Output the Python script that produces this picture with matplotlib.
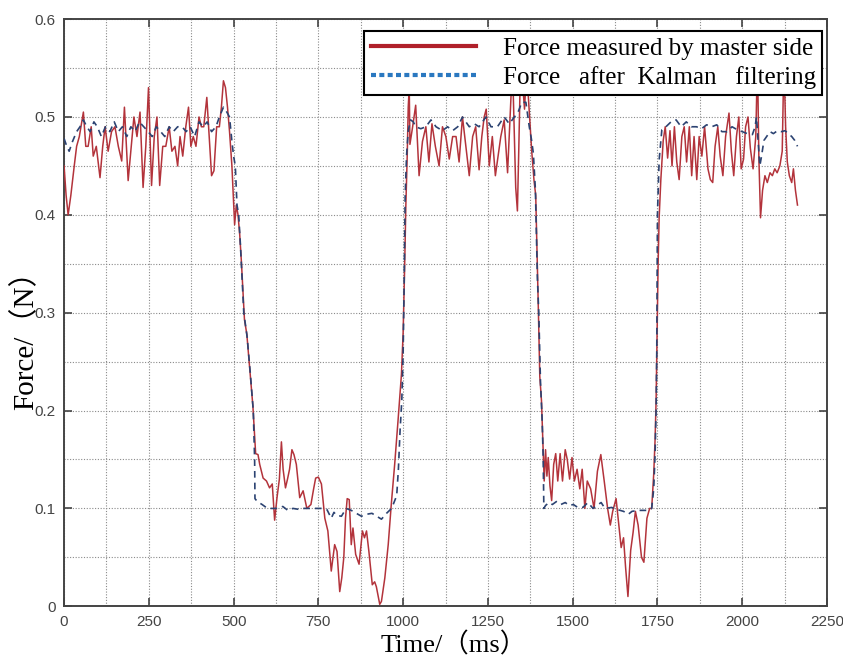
import matplotlib
matplotlib.use("Agg")
import matplotlib.pyplot as plt
from matplotlib.lines import Line2D
from matplotlib.ticker import MultipleLocator

# Force measured by master side (time in ms, force in N)
red_t = [0, 6, 12, 20, 30, 37, 45, 57, 64, 71, 80, 86, 95, 106, 114, 121, 130, 140, 150, 160,
         170, 178, 189, 198, 206, 215, 224, 233, 241, 249, 258, 266, 274, 282, 291, 300, 310, 318,
         327, 335, 342, 350, 359, 367, 374, 381, 389, 398, 405, 412, 421, 428, 435, 442, 450, 458,
         464, 470, 476, 482, 488, 495, 503, 508, 513, 518, 523, 532, 539, 547, 557, 565, 572, 577,
         587, 597, 606, 614, 621, 628, 635, 641, 646, 653, 659, 665, 672, 678, 685, 695, 705, 716,
         728, 736, 742, 750, 759, 769, 778, 788, 798, 805, 813, 819, 825, 830, 835, 841, 847, 852,
         860, 870, 880, 886, 892, 899, 909, 916, 921, 931, 936, 946, 956, 965, 975, 985, 995, 1000,
         1004, 1008, 1012, 1015, 1018, 1020, 1028, 1037, 1047, 1057, 1067, 1076, 1085, 1095, 1106,
         1116, 1126, 1136, 1146, 1156, 1165, 1175, 1185, 1195, 1205, 1214, 1224, 1232, 1239, 1245,
         1254, 1263, 1272, 1280, 1288, 1298, 1308, 1318, 1322, 1332, 1337, 1341, 1346, 1351, 1358,
         1364, 1371, 1379, 1386, 1391, 1396, 1399, 1403, 1408, 1413, 1416, 1420, 1424, 1428, 1433,
         1438, 1444, 1450, 1456, 1463, 1470, 1478, 1484, 1491, 1498, 1505, 1513, 1521, 1528, 1536,
         1543, 1553, 1563, 1573, 1583, 1593, 1603, 1611, 1618, 1628, 1636, 1643, 1650, 1656, 1663,
         1671, 1678, 1685, 1693, 1703, 1710, 1719, 1727, 1733, 1739, 1743, 1746, 1749, 1752, 1755,
         1760, 1767, 1773, 1780, 1787, 1793, 1800, 1807, 1814, 1822, 1829, 1836, 1844, 1851, 1858,
         1866, 1873, 1881, 1889, 1899, 1906, 1913, 1920, 1928, 1935, 1943, 1951, 1961, 1968, 1975,
         1983, 1990, 1997, 2004, 2010, 2017, 2024, 2032, 2040, 2045, 2049, 2054, 2060, 2067, 2074,
         2082, 2089, 2096, 2103, 2111, 2118, 2123, 2128, 2133, 2139, 2146, 2151, 2157, 2163]
red_v = [0.45, 0.42, 0.40, 0.42, 0.45, 0.47, 0.48, 0.505, 0.47, 0.47, 0.49, 0.46, 0.47, 0.438, 0.47,
         0.49, 0.465, 0.485, 0.49, 0.47, 0.455, 0.51, 0.435, 0.47, 0.50, 0.48, 0.505, 0.428, 0.47,
         0.53, 0.43, 0.48, 0.50, 0.43, 0.47, 0.47, 0.49, 0.465, 0.47, 0.45, 0.48, 0.46, 0.49, 0.51,
         0.47, 0.48, 0.47, 0.50, 0.49, 0.49, 0.52, 0.48, 0.44, 0.445, 0.49, 0.49, 0.51, 0.537, 0.53,
         0.51, 0.485, 0.45, 0.39, 0.41, 0.40, 0.38, 0.352, 0.293, 0.278, 0.245, 0.204, 0.156, 0.155,
         0.145, 0.131, 0.128, 0.121, 0.125, 0.088, 0.111, 0.13, 0.168, 0.14, 0.121, 0.13, 0.14, 0.16,
         0.155, 0.145, 0.111, 0.118, 0.10, 0.104, 0.12, 0.131, 0.132, 0.125, 0.09, 0.077, 0.036,
         0.063, 0.056, 0.015, 0.029, 0.05, 0.09, 0.11, 0.109, 0.063, 0.08, 0.053, 0.043, 0.077, 0.07,
         0.077, 0.056, 0.022, 0.025, 0.02, 0.002, 0.005, 0.029, 0.063, 0.104, 0.145, 0.19, 0.237,
         0.28, 0.34, 0.41, 0.46, 0.51, 0.53, 0.472, 0.49, 0.512, 0.44, 0.475, 0.49, 0.454, 0.493,
         0.47, 0.45, 0.49, 0.48, 0.457, 0.48, 0.48, 0.454, 0.50, 0.47, 0.44, 0.48, 0.49, 0.446, 0.48,
         0.50, 0.508, 0.45, 0.48, 0.44, 0.46, 0.48, 0.497, 0.443, 0.52, 0.56, 0.428, 0.404, 0.466,
         0.55, 0.54, 0.508, 0.55, 0.51, 0.466, 0.435, 0.42, 0.345, 0.30, 0.235, 0.21, 0.16, 0.128,
         0.16, 0.133, 0.152, 0.123, 0.108, 0.145, 0.156, 0.128, 0.156, 0.128, 0.16, 0.15, 0.13,
         0.152, 0.128, 0.14, 0.12, 0.14, 0.10, 0.128, 0.12, 0.10, 0.138, 0.155, 0.128, 0.10, 0.083,
         0.097, 0.11, 0.083, 0.06, 0.07, 0.04, 0.01, 0.057, 0.075, 0.097, 0.083, 0.05, 0.045, 0.09,
         0.10, 0.10, 0.135, 0.17, 0.21, 0.28, 0.35, 0.397, 0.436, 0.476, 0.49, 0.458, 0.486, 0.45,
         0.49, 0.454, 0.436, 0.48, 0.49, 0.454, 0.49, 0.44, 0.48, 0.436, 0.48, 0.46, 0.49, 0.447,
         0.436, 0.433, 0.47, 0.49, 0.46, 0.44, 0.48, 0.504, 0.465, 0.44, 0.48, 0.50, 0.447, 0.457,
         0.49, 0.50, 0.468, 0.447, 0.48, 0.56, 0.46, 0.397, 0.425, 0.44, 0.433, 0.443, 0.44, 0.447,
         0.443, 0.45, 0.465, 0.56, 0.49, 0.454, 0.44, 0.433, 0.447, 0.425, 0.41]

# Force after Kalman filtering
blue_t = [0, 8, 15, 25, 37, 47, 57, 67, 77, 88, 98, 110, 122, 135, 148, 160, 172, 185, 197, 210,
          222, 235, 248, 260, 272, 285, 297, 310, 322, 335, 348, 360, 372, 385, 398, 410, 422, 435,
          448, 458, 470, 480, 488, 495, 500, 505, 510, 515, 520, 530, 540, 550, 558, 562, 563, 570,
          584, 600, 615, 630, 645, 660, 675, 693, 708, 725, 743, 760, 775, 788, 796, 803, 818, 832,
          847, 862, 877, 892, 908, 922, 936, 951, 966, 981, 986, 991, 996, 1000, 1003, 1006, 1010,
          1015, 1022, 1030, 1037, 1052, 1067, 1082, 1097, 1116, 1131, 1146, 1161, 1175, 1195, 1210,
          1224, 1244, 1259, 1278, 1298, 1313, 1328, 1338, 1350, 1362, 1372, 1378, 1384, 1390, 1393,
          1396, 1400, 1405, 1410, 1413, 1415, 1420, 1430, 1440, 1452, 1465, 1478, 1490, 1502, 1515,
          1530, 1545, 1560, 1575, 1584, 1595, 1615, 1630, 1650, 1664, 1675, 1694, 1710, 1722, 1733,
          1739, 1743, 1746, 1748, 1750, 1755, 1763, 1775, 1790, 1805, 1820, 1835, 1850, 1865, 1880,
          1895, 1910, 1925, 1940, 1955, 1970, 1985, 2000, 2015, 2030, 2038, 2042, 2047, 2052, 2057,
          2064, 2072, 2082, 2092, 2104, 2116, 2126, 2136, 2146, 2155, 2163]
blue_v = [0.478, 0.47, 0.465, 0.475, 0.485, 0.49, 0.497, 0.49, 0.485, 0.495, 0.49, 0.48, 0.49,
          0.485, 0.495, 0.485, 0.49, 0.48, 0.49, 0.485, 0.495, 0.49, 0.485, 0.48, 0.49, 0.485, 0.48,
          0.49, 0.485, 0.49, 0.49, 0.485, 0.49, 0.48, 0.495, 0.49, 0.495, 0.485, 0.49, 0.50, 0.51,
          0.505, 0.50, 0.475, 0.46, 0.45, 0.41, 0.40, 0.37, 0.30, 0.275, 0.235, 0.20, 0.15, 0.11,
          0.107, 0.104, 0.10, 0.10, 0.10, 0.102, 0.098, 0.10, 0.099, 0.10, 0.10, 0.10, 0.10, 0.099,
          0.09, 0.096, 0.093, 0.092, 0.10, 0.098, 0.095, 0.092, 0.094, 0.095, 0.092, 0.089, 0.095,
          0.10, 0.113, 0.14, 0.18, 0.21, 0.26, 0.33, 0.42, 0.46, 0.486, 0.497, 0.495, 0.49, 0.488,
          0.49, 0.497, 0.49, 0.486, 0.49, 0.486, 0.49, 0.50, 0.49, 0.493, 0.49, 0.50, 0.49, 0.49,
          0.50, 0.493, 0.50, 0.504, 0.515, 0.515, 0.49, 0.478, 0.463, 0.426, 0.38, 0.335, 0.30,
          0.23, 0.19, 0.152, 0.10, 0.103, 0.106, 0.104, 0.107, 0.104, 0.106, 0.103, 0.104, 0.101,
          0.101, 0.106, 0.100, 0.104, 0.106, 0.10, 0.101, 0.099, 0.097, 0.094, 0.097, 0.098, 0.098,
          0.098, 0.10, 0.12, 0.155, 0.20, 0.26, 0.40, 0.456, 0.487, 0.49, 0.495, 0.497, 0.49, 0.495,
          0.49, 0.49, 0.488, 0.492, 0.49, 0.492, 0.485, 0.485, 0.49, 0.487, 0.485, 0.483, 0.482,
          0.49, 0.50, 0.475, 0.45, 0.46, 0.476, 0.48, 0.485, 0.483, 0.486, 0.485, 0.486, 0.483,
          0.48, 0.476, 0.47]

labels = ["Force measured by master side", "Force   after  Kalman   filtering"]
serif = ["Liberation Serif", "Noto Sans CJK SC", "DejaVu Sans"]

fig = plt.figure(figsize=(8.43, 6.59), dpi=100)
ax = fig.add_axes([0.076, 0.080, 0.905, 0.891])

ax.plot(red_t, red_v, color="#b3333b", lw=1.1, zorder=3)
ax.plot(blue_t, blue_v, color="#2c4372", lw=1.2, ls=(0, (4, 3)), zorder=4)

ax.set_xlim(0, 2250)
ax.set_ylim(0, 0.6)
ax.xaxis.set_major_locator(MultipleLocator(250))
ax.xaxis.set_minor_locator(MultipleLocator(125))
ax.yaxis.set_minor_locator(MultipleLocator(0.05))
ax.set_yticks([0, 0.1, 0.2, 0.3, 0.4, 0.5, 0.6])
ax.set_yticklabels(["0", "0.1", "0.2", "0.3", "0.4", "0.5", "0.6"])
ax.grid(True, which="both", ls=(0, (1, 1.5)), color="#8a8a8a", lw=0.8)
ax.tick_params(which="major", direction="in", length=6, width=1.2, top=True, right=True,
               labelsize=11, labelcolor="#444444", color="#444444", pad=6)
ax.tick_params(which="minor", length=0)
for lab in ax.get_xticklabels() + ax.get_yticklabels():
    lab.set_family("Liberation Sans")
for s in ax.spines.values():
    s.set_color("#444444")
    s.set_linewidth(1.4)

ax.set_xlabel("Time/（ms）", fontsize=19, family=serif)
ax.xaxis.set_label_coords(0.51, -0.044)
ax.set_ylabel("Force/（N）", fontsize=21, family=serif)
ax.yaxis.set_label_coords(-0.032, 0.465)

handles = [Line2D([], [], color="#b0202a", lw=3),
           Line2D([], [], color="#2a78c0", lw=3, ls=(0, (1.2, 0.8)))]
leg = ax.legend(handles, labels, loc="upper right", bbox_to_anchor=(0.994, 0.979),
                prop={"family": "Liberation Serif", "size": 18}, handlelength=4.2,
                handletextpad=1.1, fancybox=False, framealpha=1, edgecolor="black",
                borderpad=0.25, labelspacing=0.22, borderaxespad=0)
leg.get_frame().set_linewidth(1.5)
leg.set_zorder(10)

fig.savefig("out.png", dpi=100)
